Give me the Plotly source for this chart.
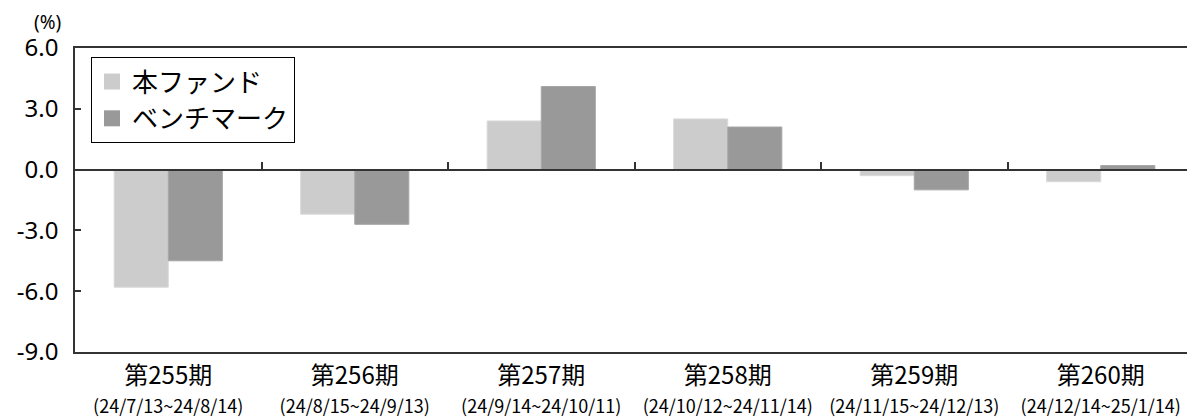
import plotly.graph_objects as go

periods = ["第255期", "第256期", "第257期", "第258期", "第259期", "第260期"]
ranges = ["(24/7/13~24/8/14)", "(24/8/15~24/9/13)", "(24/9/14~24/10/11)",
          "(24/10/12~24/11/14)", "(24/11/15~24/12/13)", "(24/12/14~25/1/14)"]
fund = [-5.8, -2.2, 2.4, 2.5, -0.3, -0.6]
bench = [-4.5, -2.7, 4.1, 2.1, -1.0, 0.2]
y_ticks = [6.0, 3.0, 0.0, -3.0, -6.0, -9.0]
y_min, y_max = -9.0, 6.0
names = ["本ファンド", "ベンチマーク"]
colors = ["#cccccc", "#999999"]
edges = ["#d9d9d9", "#a6a6a6"]

cats = [f"<span style='font-size:24px'>{p}</span><br><span style='font-size:18px'>{r}</span>"
        for p, r in zip(periods, ranges)]

fig = go.Figure()
for vals, name, col, edge in zip([fund, bench], names, colors, edges):
    fig.add_trace(go.Bar(x=cats, y=vals, name=name, showlegend=False,
                         marker=dict(color=col, line=dict(color=edge, width=1))))
# legend entries with larger swatches
for name, col in zip(names, colors):
    fig.add_trace(go.Scatter(x=[None], y=[None], mode="markers", name=name,
                             marker=dict(symbol="square", size=16, color=col)))
# invisible trace to draw the category axis at y=0
fig.add_trace(go.Scatter(x=cats, y=[0] * len(cats), xaxis="x2", mode="lines",
                         line=dict(width=0), showlegend=False, hoverinfo="skip"))

zero_pos = (0 - y_min) / (y_max - y_min)

fig.update_layout(
    width=1195, height=418,
    margin=dict(l=67, r=9, t=40, b=74),
    paper_bgcolor="white", plot_bgcolor="white",
    font=dict(family="Noto Sans CJK JP", color="black", size=20),
    barmode="group", bargap=0.42, bargroupgap=0,
    showlegend=True,
    legend=dict(x=0.0143, y=0.97, xanchor="left", yanchor="top",
                bordercolor="black", borderwidth=1, bgcolor="white",
                font=dict(size=26), itemwidth=30, tracegroupgap=0,
                itemsizing="trace"),
    xaxis=dict(showline=True, linecolor="#333333", linewidth=1.5, mirror=True,
               ticks="", showgrid=False, tickfont=dict(size=22), tickangle=0,
               automargin=False, ticklabelstandoff=4),
    xaxis2=dict(overlaying="x", matches="x", anchor="free", position=zero_pos,
                showline=True, linecolor="#333333", linewidth=1.5,
                ticks="inside", ticklen=7, tickwidth=1.5, tickcolor="#333333",
                tickson="boundaries", showticklabels=False, showgrid=False),
    yaxis=dict(range=[y_min, y_max], tickvals=y_ticks,
               ticktext=[f"{v:.1f}" for v in y_ticks],
               showline=True, linecolor="#333333", linewidth=1.5, mirror=True,
               ticks="inside", ticklen=6, tickwidth=1.5, tickcolor="#333333",
               showgrid=False, zeroline=False, automargin=False,
               tickfont=dict(size=24, family="Noto Sans"), ticklabelstandoff=10),
    annotations=[dict(text="(%)", xref="paper", yref="paper", x=-0.025, y=1.0,
                      xanchor="center", yanchor="bottom", yshift=11, showarrow=False,
                      font=dict(size=19, family="Noto Sans"))],
)

fig.write_html("out.html")
